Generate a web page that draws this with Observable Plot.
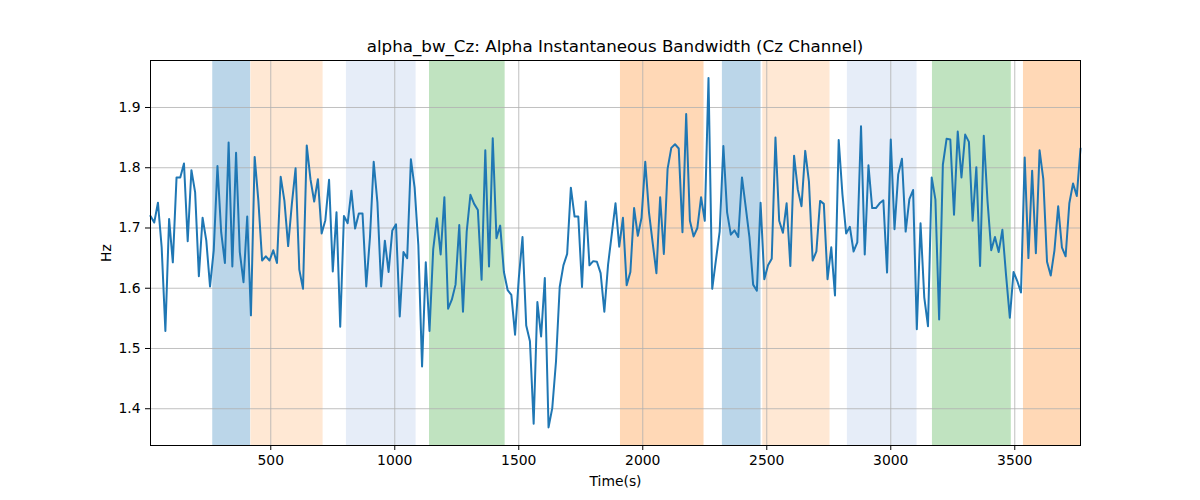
<!DOCTYPE html>
<html>
<head>
<meta charset="utf-8">
<script src="https://cdn.jsdelivr.net/npm/d3@7"></script>
<script src="https://cdn.jsdelivr.net/npm/@observablehq/plot@0.6"></script>
<style>
  html, body { margin: 0; padding: 0; background: #fff; }
  #title { box-sizing: border-box; width: 1200px; height: 56px; padding-top: 36px; padding-left: 30px;
           line-height: 20px; text-align: center; font-family: "DejaVu Sans", sans-serif; font-size: 16.7px; color: #000; white-space: nowrap; }
</style>
</head>
<body>
<div id="title">alpha_bw_Cz: Alpha Instantaneous Bandwidth (Cz Channel)</div>
<div id="chart"></div>
<script>
// Sampling: one value every 15 s starting at t = 15 s
const sampleStart = 15;
const sampleStep = 15;

// Alpha instantaneous bandwidth (Hz)
const bandwidth = [
  1.720, 1.709, 1.742, 1.668, 1.529, 1.715, 1.643, 1.784, 1.784, 1.807,
  1.678, 1.796, 1.759, 1.620, 1.717, 1.679, 1.603, 1.663, 1.803, 1.693,
  1.642, 1.842, 1.636, 1.825, 1.660, 1.610, 1.719, 1.555, 1.818, 1.745,
  1.646, 1.653, 1.646, 1.663, 1.642, 1.785, 1.745, 1.670, 1.740, 1.799,
  1.631, 1.599, 1.837, 1.781, 1.744, 1.781, 1.691, 1.713, 1.780, 1.628,
  1.726, 1.536, 1.720, 1.708, 1.762, 1.699, 1.724, 1.724, 1.603, 1.685,
  1.810, 1.742, 1.603, 1.679, 1.627, 1.696, 1.706, 1.553, 1.660, 1.650,
  1.814, 1.767, 1.671, 1.470, 1.643, 1.529, 1.665, 1.716, 1.656, 1.751,
  1.566, 1.581, 1.606, 1.705, 1.561, 1.694, 1.755, 1.740, 1.730, 1.614,
  1.829, 1.636, 1.849, 1.683, 1.704, 1.627, 1.597, 1.589, 1.523, 1.616,
  1.685, 1.538, 1.512, 1.375, 1.577, 1.520, 1.617, 1.369, 1.401, 1.478,
  1.602, 1.638, 1.657, 1.767, 1.719, 1.719, 1.602, 1.744, 1.638, 1.645,
  1.644, 1.625, 1.561, 1.639, 1.690, 1.741, 1.669, 1.717, 1.605, 1.627,
  1.733, 1.687, 1.717, 1.810, 1.726, 1.675, 1.625, 1.751, 1.657, 1.798,
  1.833, 1.839, 1.832, 1.693, 1.889, 1.712, 1.686, 1.700, 1.751, 1.712,
  1.949, 1.599, 1.647, 1.694, 1.836, 1.726, 1.689, 1.696, 1.685, 1.784,
  1.735, 1.685, 1.606, 1.596, 1.742, 1.615, 1.638, 1.649, 1.850, 1.712,
  1.692, 1.741, 1.637, 1.820, 1.764, 1.736, 1.828, 1.777, 1.646, 1.661,
  1.745, 1.740, 1.615, 1.668, 1.588, 1.846, 1.756, 1.691, 1.702, 1.661,
  1.676, 1.869, 1.656, 1.804, 1.733, 1.733, 1.741, 1.746, 1.626, 1.847,
  1.698, 1.789, 1.815, 1.694, 1.748, 1.763, 1.532, 1.708, 1.585, 1.537,
  1.784, 1.747, 1.548, 1.805, 1.848, 1.847, 1.722, 1.860, 1.784, 1.855,
  1.843, 1.712, 1.801, 1.637, 1.853, 1.745, 1.663, 1.685, 1.660, 1.697,
  1.621, 1.551, 1.627, 1.612, 1.593, 1.817, 1.650, 1.795, 1.658, 1.829,
  1.781, 1.644, 1.621, 1.663, 1.736, 1.668, 1.653, 1.741, 1.774, 1.753,
  1.832
];

// Shaded segments (seconds) and their condition
const segStart = [266, 420, 805, 1140, 1910, 2321, 2484, 2825, 3168, 3535];
const segEnd   = [419, 711, 1086, 1445, 2247, 2477, 2755, 3106, 3486, 3765];
const segKind  = ["c1", "c2", "c3", "c4", "c5", "c1", "c2", "c3", "c4", "c5"];

// Axes
const xDomain = [15, 3765];
const yDomain = [1.339, 1.978];
const xTicks = [500, 1000, 1500, 2000, 2500, 3000, 3500];
const yTicks = [1.4, 1.5, 1.6, 1.7, 1.8, 1.9];

// Styles
const kindDomain = ["c1", "c2", "c3", "c4", "c5"];
const kindColors = ["#bbd6e9", "#ffe8d4", "#e6edf8", "#c0e3c0", "#ffd8b6"];
const gridColor = "#b0b0b0";
const lineColor = "#1f77b4";

const series = bandwidth.map((v, i) => ({ t: sampleStart + i * sampleStep, v }));
const segments = segStart.map((s, i) => ({ start: s, end: segEnd[i], kind: segKind[i] }));

const chart = Plot.plot({
  width: 1200,
  height: 444,
  marginLeft: 150,
  marginRight: 120,
  marginTop: 4,
  marginBottom: 55,
  style: { fontFamily: "DejaVu Sans, sans-serif", fontSize: "13.9px", color: "#000", background: "#fff" },
  x: { domain: xDomain },
  y: { domain: yDomain },
  color: { type: "ordinal", domain: kindDomain, range: kindColors },
  marks: [
    Plot.rect(segments, { x1: "start", x2: "end", fill: "kind" }),
    Plot.gridX({ ticks: xTicks, stroke: gridColor, strokeOpacity: 1, strokeWidth: 0.8 }),
    Plot.gridY({ ticks: yTicks, stroke: gridColor, strokeOpacity: 1, strokeWidth: 0.8 }),
    Plot.line(series, { x: "t", y: "v", stroke: lineColor, strokeWidth: 2 }),
    Plot.frame({ stroke: "#000", strokeWidth: 1 }),
    Plot.axisX({ ticks: xTicks, tickFormat: d => String(d), tickSize: 5, tickPadding: 5,
                 label: "Time(s)", labelAnchor: "center", labelOffset: 40, labelArrow: "none" }),
    Plot.axisY({ ticks: yTicks, tickFormat: d3.format(".1f"), tickSize: 5, tickPadding: 5,
                 label: "Hz", labelAnchor: "center", labelOffset: 49, labelArrow: "none" })
  ]
});
document.getElementById("chart").appendChild(chart);
</script>
</body>
</html>
